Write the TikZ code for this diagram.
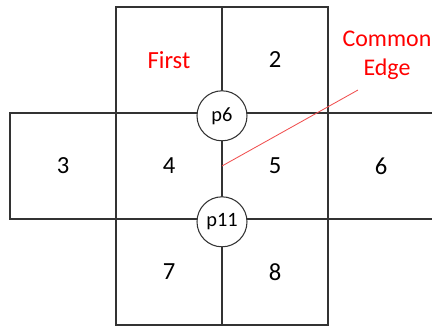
\documentclass[tikz,border=0pt]{standalone}
\usepackage{fontspec}
\setmainfont{Carlito}
\usetikzlibrary{positioning,calc}
\definecolor{edgeink}{HTML}{333333}
\definecolor{hotred}{HTML}{FF0000}
\definecolor{softred}{HTML}{F05050}

\begin{document}
\begin{tikzpicture}[x=0.25mm, y=-0.25mm,
  font=\fontsize{17.5}{20}\selectfont,
  cell/.style={draw=edgeink, line width=0.75pt, minimum width=2.65cm, minimum height=2.65cm, inner sep=0pt, outer sep=0pt},
  joint/.style={circle, draw=edgeink, line width=0.75pt, fill=white, minimum size=1.25cm, inner sep=0pt,
                font=\fontsize{14.5}{17}\selectfont, yshift=-2pt},
  note/.style={text=hotred, align=center, font=\fontsize{17}{20.6}\selectfont}]
\useasboundingbox (0,0) rectangle (432,327);

% ---------------- middle row
\node[cell] (c4) at (169,166) {4};
\node[cell, left=0pt of c4] (c3) {3};
\node[cell, right=0pt of c4] (c5) {5};
\node[cell, right=0pt of c5] (c6) {6};

% ---------------- top and bottom rows
\node[cell, above=0pt of c4, text=hotred] (c1) {First};
\node[cell, above=0pt of c5] (c2) {2};
\node[cell, below=0pt of c4] (c7) {7};
\node[cell, below=0pt of c5] (c8) {8};

% ---------------- shared corners
\node[joint] (p6) at (c4.north east) {p6};
\node[joint] (p11) at (c4.south east) {p11};

% ---------------- common edge label
\node[note] (common) at (387,55) {Common\\Edge};
\coordinate (tip) at (358,90);
\draw[softred, line width=0.6pt] (c4.east) -- (tip);
\end{tikzpicture}
\end{document}
